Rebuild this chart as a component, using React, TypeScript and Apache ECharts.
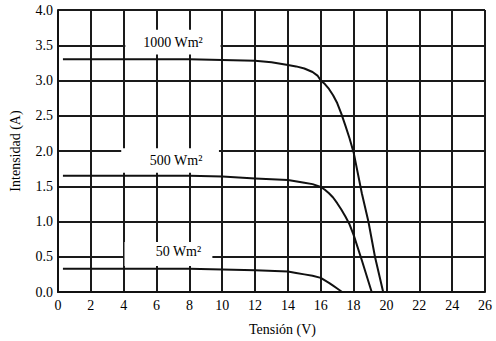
import React, { useEffect, useRef } from "react";
import * as echarts from "echarts";

const voltage1000 = [0.3, 2, 4, 6, 8, 10, 12, 13, 14, 14.5, 15, 15.5, 15.8, 16, 16.25, 16.5, 16.75, 17, 17.25, 17.5, 17.75, 18, 18.5, 18.9, 19.3, 19.8];
const current1000 = [3.3, 3.3, 3.3, 3.3, 3.3, 3.29, 3.28, 3.26, 3.22, 3.2, 3.17, 3.12, 3.07, 3.0, 2.95, 2.88, 2.79, 2.68, 2.53, 2.36, 2.18, 1.98, 1.4, 1.0, 0.5, 0];
const voltage500 = [0.3, 2, 4, 6, 8, 10, 12, 14, 15, 15.5, 16, 16.25, 16.5, 16.75, 17, 17.25, 17.5, 17.75, 18, 18.5, 19.1];
const current500 = [1.65, 1.65, 1.65, 1.65, 1.65, 1.64, 1.61, 1.59, 1.55, 1.53, 1.49, 1.45, 1.4, 1.34, 1.26, 1.17, 1.07, 0.96, 0.81, 0.45, 0];
const voltage50 = [0.3, 2, 4, 6, 8, 10, 12, 14, 14.5, 15, 15.5, 16, 16.5, 16.75, 17, 17.3];
const current50 = [0.33, 0.33, 0.33, 0.33, 0.33, 0.32, 0.31, 0.29, 0.27, 0.25, 0.23, 0.2, 0.13, 0.09, 0.05, 0];

const curveLabels = ["1000 Wm²", "500 Wm²", "50 Wm²"];
const labelBoxes = [
  [4.1, 3.37, 9.9, 3.72],
  [3.85, 1.69, 9.8, 2.04],
  [4.05, 0.37, 9.4, 0.71],
];
const labelOffsets = [[0, 0], [6, 0], [10, -2]];

const FONT = "'Liberation Serif', 'Times New Roman', serif";

export default function App() {
  const ref = useRef<HTMLDivElement>(null);
  useEffect(() => {
    const chart = echarts.init(ref.current!, null, { renderer: "svg" });
    const pairs = (xs: number[], ys: number[]) => xs.map((x, i) => [x, ys[i]]);
    const curve = (name: string, xs: number[], ys: number[]) => ({
      name,
      type: "line",
      data: pairs(xs, ys),
      showSymbol: false,
      symbol: "none",
      smooth: false,
      z: 3,
      lineStyle: { color: "#111", width: 2, join: "round" },
    });
    chart.setOption({
      animation: false,
      backgroundColor: "#fff",
      textStyle: { fontFamily: FONT },
      grid: { left: 58, right: 11, top: 10, bottom: 49 },
      xAxis: {
        type: "value",
        min: 0,
        max: 26,
        interval: 2,
        name: "Tensión (V)",
        nameLocation: "middle",
        nameGap: 30,
        nameTextStyle: { fontFamily: FONT, fontSize: 14, color: "#000", padding: [0, 0, 0, 22] },
        axisLine: { show: true, lineStyle: { color: "#111", width: 2 } },
        axisTick: { show: false },
        axisLabel: { fontFamily: FONT, fontSize: 14, color: "#000", margin: 6 },
        splitLine: { show: true, lineStyle: { color: "#1a1a1a", width: 2 } },
      },
      yAxis: {
        type: "value",
        min: 0,
        max: 4,
        interval: 0.5,
        name: "Intensidad (A)",
        nameLocation: "middle",
        nameGap: 36,
        nameTextStyle: { fontFamily: FONT, fontSize: 14, color: "#000" },
        axisLine: { show: true, lineStyle: { color: "#111", width: 2 } },
        axisTick: { show: false },
        axisLabel: {
          fontFamily: FONT,
          fontSize: 14,
          color: "#000",
          margin: 5,
          formatter: (v: number) => v.toFixed(1),
        },
        splitLine: { show: true, lineStyle: { color: "#1a1a1a", width: 2 } },
      },
      series: [
        {
          name: "labels",
          type: "line",
          data: [],
          z: 1,
          markArea: {
            silent: true,
            itemStyle: { color: "#fff", borderWidth: 0 },
            label: {
              show: true,
              position: "inside",
              color: "#000",
              fontFamily: FONT,
              fontSize: 14,
            },
            data: labelBoxes.map((b, i) => [
              {
                name: curveLabels[i],
                xAxis: b[0],
                yAxis: b[1],
                label: { offset: labelOffsets[i] },
              },
              { xAxis: b[2], yAxis: b[3] },
            ]),
          },
        },
        curve("1000", voltage1000, current1000),
        curve("500", voltage500, current500),
        curve("50", voltage50, current50),
      ],
    });
    return () => chart.dispose();
  }, []);
  return <div ref={ref} style={{ width: 496, height: 341, position: "absolute", left: 0, top: 0 }} />;
}
